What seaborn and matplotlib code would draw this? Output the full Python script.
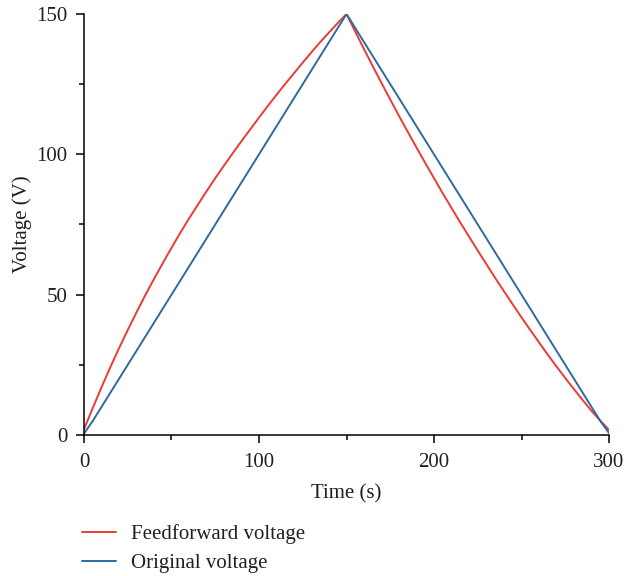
import numpy as np
import pandas as pd
import matplotlib
matplotlib.use("Agg")
import matplotlib.pyplot as plt
import seaborn as sns
from matplotlib.ticker import MultipleLocator

# Sample times (s)
time_s = list(range(0, 301, 5))

# Feedforward voltage (V): concave charge ramp, then convex discharge
feedforward_v = [
    2.0, 9.6, 17.0, 24.1, 30.9, 37.4, 43.7, 49.8, 55.6, 61.2,
    66.7, 72.0, 77.1, 82.0, 86.8, 91.5, 96.0, 100.4, 104.7, 108.9,
    113.1, 117.2, 121.2, 125.1, 128.9, 132.7, 136.4, 140.0, 143.4, 146.8,
    150.0,
    143.7, 137.5, 131.4, 125.4, 119.5, 113.7, 108.0, 102.4, 96.9, 91.5,
    86.1, 80.9, 75.7, 70.7, 65.7, 60.8, 55.9, 51.2, 46.5, 41.9,
    37.4, 33.0, 28.6, 24.4, 20.3, 16.3, 12.4, 8.6, 5.1, 1.8,
]

# Original voltage (V): linear triangular ramp
original_v = [
    0.5, 5, 10, 15, 20, 25, 30, 35, 40, 45,
    50, 55, 60, 65, 70, 75, 80, 85, 90, 95,
    100, 105, 110, 115, 120, 125, 130, 135, 140, 145,
    150,
    145, 140, 135, 130, 125, 120, 115, 110, 105, 100,
    95, 90, 85, 80, 75, 70, 65, 60, 55, 50,
    45, 40, 35, 30, 25, 20, 15, 10, 5, 0.7,
]

series_names = ["Feedforward voltage", "Original voltage"]
series_colors = ["#ec3a35", "#2e6a9f"]

df = pd.concat([
    pd.DataFrame({"Time": time_s, "Voltage": feedforward_v, "Series": series_names[0]}),
    pd.DataFrame({"Time": time_s, "Voltage": original_v, "Series": series_names[1]}),
], ignore_index=True)

sns.set_theme(style="ticks")
plt.rcParams["font.family"] = ["Liberation Serif", "DejaVu Serif"]
plt.rcParams["axes.linewidth"] = 1.1
for k in ("xtick.major.width", "ytick.major.width", "xtick.minor.width", "ytick.minor.width"):
    plt.rcParams[k] = 1.1

text_color = "#231f20"
fs = 15

fig = plt.figure(figsize=(6.24, 5.76), dpi=100)
ax = fig.add_axes([0.1346, 0.2448, 0.976 - 0.1346, 0.9757 - 0.2448])

sns.lineplot(data=df, x="Time", y="Voltage", hue="Series", hue_order=series_names,
             palette=series_colors, linewidth=1.4, ax=ax, legend=False, sort=False)

ax.set_xlim(0, 300)
ax.set_ylim(0, 150)
ax.xaxis.set_major_locator(MultipleLocator(100))
ax.xaxis.set_minor_locator(MultipleLocator(50))
ax.yaxis.set_major_locator(MultipleLocator(50))
ax.yaxis.set_minor_locator(MultipleLocator(25))
ax.tick_params(axis="x", which="major", direction="out", length=6, color="black",
               labelsize=fs, labelcolor=text_color, pad=7)
ax.tick_params(axis="y", which="major", direction="out", length=6, color="black",
               labelsize=fs, labelcolor=text_color, pad=6)
ax.tick_params(axis="both", which="minor", direction="out", length=3.5, color="black")
for side in ("top", "right"):
    ax.spines[side].set_visible(False)
for side in ("left", "bottom"):
    ax.spines[side].set_color("black")

ax.set_xlabel("Time (s)", fontsize=fs, color=text_color, labelpad=9)
ax.set_ylabel("Voltage (V)", fontsize=fs, color=text_color, labelpad=3)

handles = [plt.Line2D([], [], color=c, linewidth=1.4) for c in series_colors]
fig.legend(handles, series_names, loc="upper left", bbox_to_anchor=(0.132, 0.09),
           bbox_transform=fig.transFigure, frameon=False, fontsize=fs,
           handlelength=1.6, handletextpad=0.75, labelspacing=0.45, borderaxespad=0,
           borderpad=0, labelcolor=text_color)

fig.savefig("out.png", dpi=100)
